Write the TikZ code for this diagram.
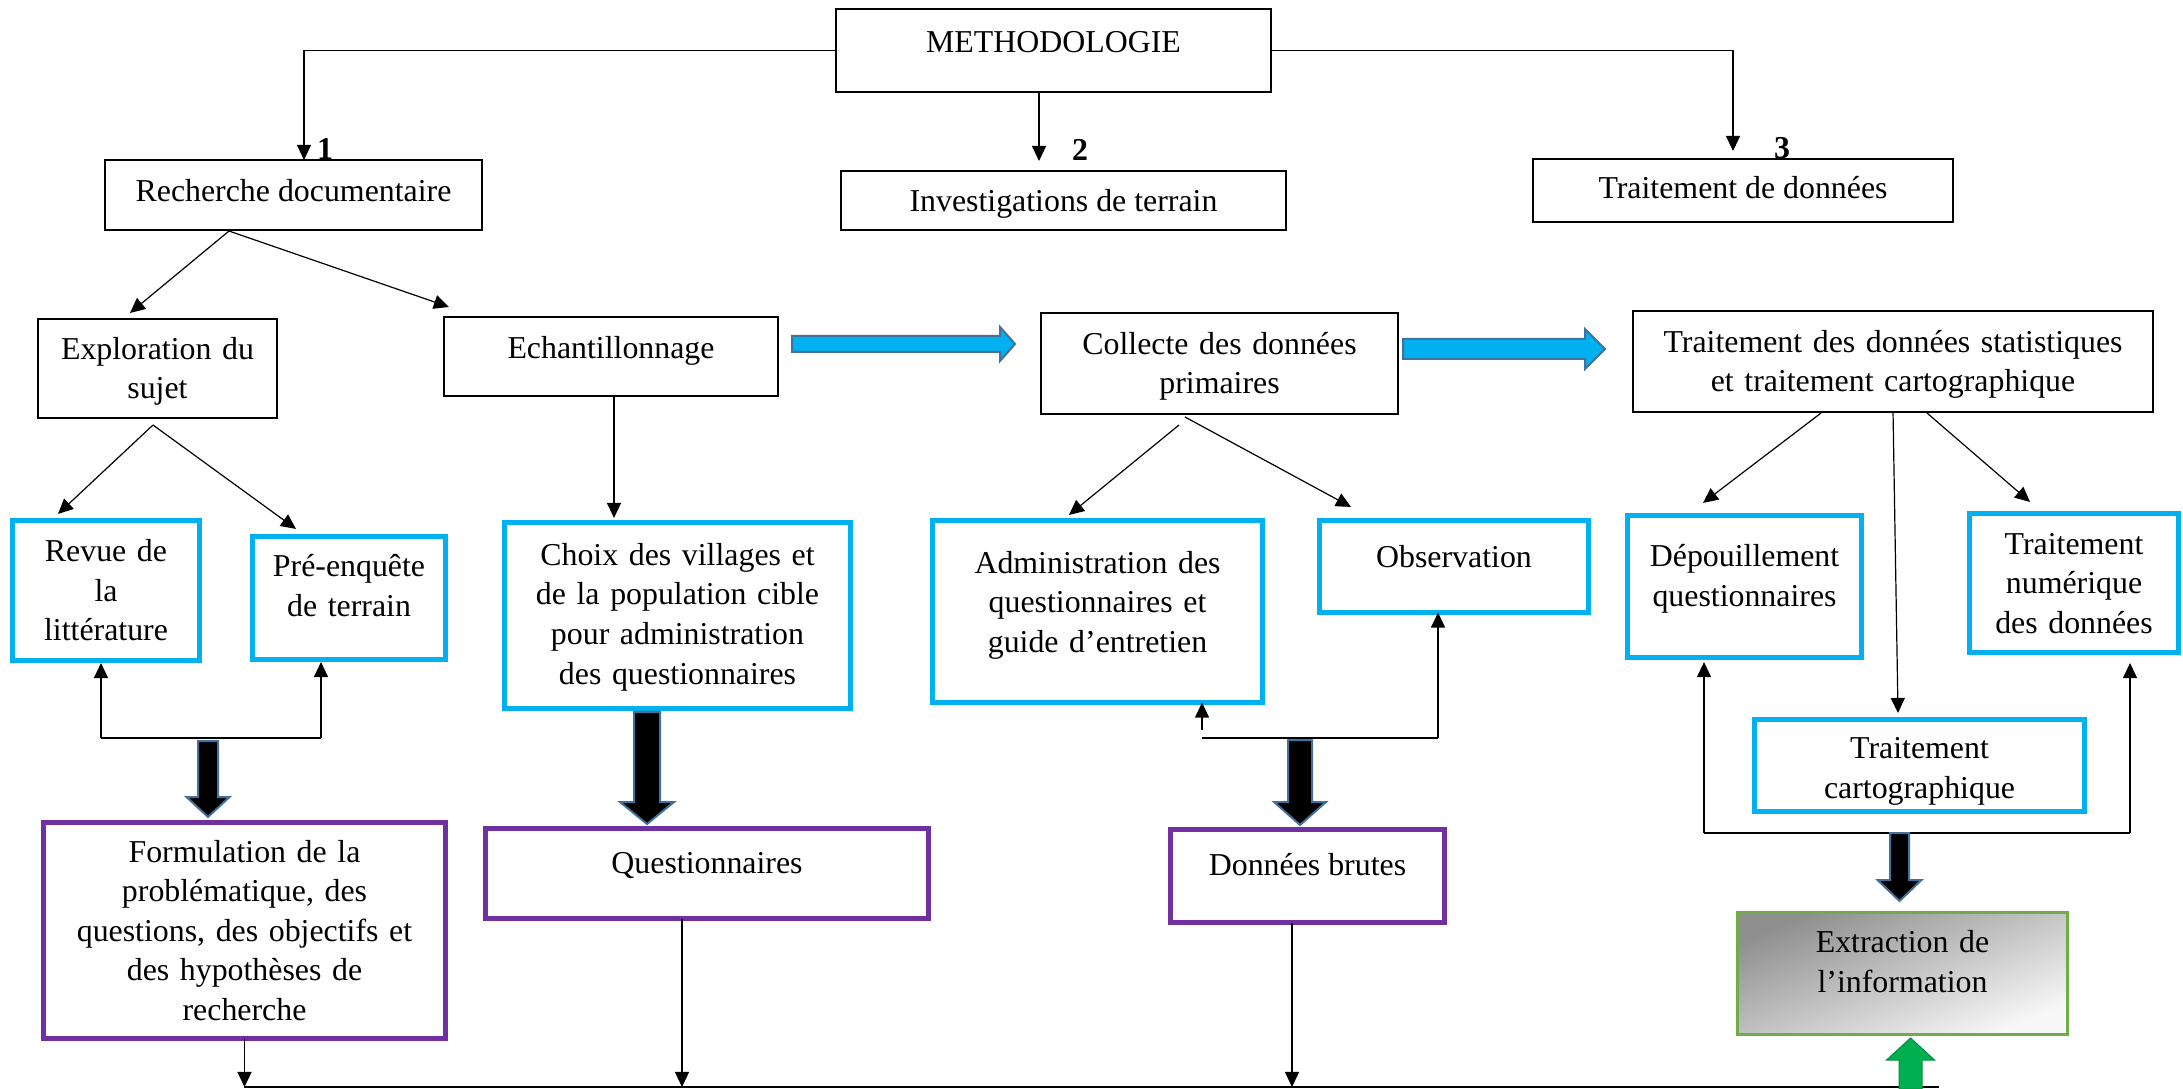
\documentclass[tikz,border=0pt]{standalone}
\usepackage{fontspec}
\setmainfont{Liberation Serif}
\usetikzlibrary{arrows.meta}

\definecolor{cyanc}{RGB}{0,176,240}
\definecolor{purplec}{RGB}{112,48,160}
\definecolor{greenbord}{RGB}{112,173,71}
\definecolor{greenarr}{RGB}{0,176,80}
\definecolor{steelc}{RGB}{65,113,156}

\begin{document}
\begin{tikzpicture}[x=0.01cm, y=-0.01cm,
	every node/.style={font=\fontsize{9.06}{11.24}\selectfont, inner sep=0pt, outer sep=0pt, align=center},
	blk/.style={draw, line width=0.02cm},
	cya/.style={draw=cyanc, line width=0.05cm},
	pur/.style={draw=purplec, line width=0.05cm},
	grn/.style={draw=greenbord, line width=0.03cm, top color=black!44, bottom color=black!3, shading angle=22},
	tx/.style={text height=8.5pt, text depth=#1},
	num/.style={font=\fontsize{9.06}{11.24}\selectfont\bfseries},
	arr/.style={-{Triangle[length=0.15cm, width=0.14cm]}, line width=0.012cm},
	fatblk/.style={draw=steelc, line width=0.02cm, fill=black, line join=miter},
	fatblue/.style={fatblk, fill=cyanc},
	fatgreen/.style={draw=greenarr!80!black, line width=0.01cm, fill=greenarr}]
	
	\path[use as bounding box, fill=white] (0,0) rectangle (2183,1089);
	
	% Niveau 1
	\node[blk, minimum width=4.35cm, minimum height=0.83cm, tx=7.6pt] (meth) at (1053.5, 50.5) {METHODOLOGIE};
	\node[blk, minimum width=3.77cm, minimum height=0.70cm, tx=4.68pt] (rech) at (293.5, 195) {Recherche documentaire};
	\node[blk, minimum width=4.45cm, minimum height=0.59cm, tx=2.4pt] (inv) at (1063.5, 200.5) {Investigations de terrain};
	\node[blk, minimum width=4.20cm, minimum height=0.63cm, tx=3.82pt] (trd) at (1743, 190.5) {Traitement de données};
	\node[num] (n1) at (325, 149) {1};
	\node[num] (n2) at (1080, 150) {2};
	\node[num] (n3) at (1782, 148) {3};
	
	% Niveau 2
	\node[blk, minimum width=2.39cm, minimum height=0.99cm, text width=2.39cm, tx=13.64pt] (expl) at (157.5, 368.5) {Exploration du\\sujet};
	\node[blk, minimum width=3.34cm, minimum height=0.79cm, tx=7.24pt] (echa) at (611, 356.5) {Echantillonnage};
	\node[blk, minimum width=3.57cm, minimum height=1.01cm, text width=3.57cm, tx=13.64pt] (coll) at (1219.5, 363.5) {Collecte des données\\primaires};
	\node[blk, minimum width=5.20cm, minimum height=1.01cm, text width=5.20cm, tx=13.64pt] (tstat) at (1893, 361.5) {Traitement des données statistiques\\et traitement cartographique};
	
	% Niveau 3
	\node[cya, minimum width=1.87cm, minimum height=1.40cm, text width=1.87cm, tx=24.88pt] (revue) at (106, 590.5) {Revue de\\la\\littérature};
	\node[cya, minimum width=1.93cm, minimum height=1.23cm, text width=1.93cm, tx=20.46pt] (pre) at (349, 598) {Pré-enquête\\de terrain};
	\node[cya, minimum width=3.46cm, minimum height=1.86cm, text width=3.46cm, tx=36.98pt] (choix) at (677.5, 615.5) {Choix des villages et\\de la population cible\\pour administration\\des questionnaires};
	\node[cya, minimum width=3.30cm, minimum height=1.82cm, text width=3.30cm, tx=30.28pt] (admin) at (1097.5, 611.5) {Administration des\\questionnaires et\\guide d’entretien};
	\node[cya, minimum width=2.69cm, minimum height=0.92cm, tx=7.8pt] (obs) at (1454, 566.5) {Observation};
	\node[cya, minimum width=2.34cm, minimum height=1.42cm, text width=2.34cm, tx=19.62pt] (depo) at (1744.5, 586.5) {Dépouillement\\questionnaires};
	\node[cya, minimum width=2.09cm, minimum height=1.39cm, text width=2.09cm, tx=24.88pt] (tnum) at (2074, 583) {Traitement\\numérique\\des données};
	\node[cya, minimum width=3.30cm, minimum height=0.92cm, text width=3.30cm, tx=12.22pt] (tcart) at (1919.5, 765.5) {Traitement\\cartographique};
	
	% Niveau 4
	\node[pur, minimum width=4.02cm, minimum height=2.16cm, text width=4.02cm, tx=47.36pt] (form) at (244.5, 930.5) {Formulation de la\\problématique, des\\questions, des objectifs et\\des hypothèses de\\recherche};
	\node[pur, minimum width=4.43cm, minimum height=0.90cm, tx=8.38pt] (quest) at (707, 873.5) {Questionnaires};
	\node[pur, minimum width=2.74cm, minimum height=0.93cm, tx=8.66pt] (brut) at (1307.5, 876) {Données brutes};
	\node[grn, minimum width=3.30cm, minimum height=1.22cm, text width=3.30cm, tx=20.18pt] (extr) at (1902.5, 973.5) {Extraction de\\l’information};
	
	% Liaisons du haut
	\draw[arr] (meth.west) -| (304,0 |- rech.north);
	\draw[arr, shorten >=0.1cm] (meth.south -| 1039,0) -- (1039,0 |- inv.north);
	\draw[arr, shorten >=0.08cm] (meth.east) -| (1733,0 |- trd.north);
	
	\draw[arr] ([shift={(-64.5,1)}]rech.south) -- ([shift={(-27.5,-6)}]expl.north);
	\draw[arr] ([shift={(-64.5,1)}]rech.south) -- ([shift={(5,-10)}]echa.north west);
	
	\draw[fatblue] (792,336) -- ++(208,0) -- ++(0,-9) -- ++(15,17) -- ++(-15,17) -- ++(0,-9) -- ++(-208,0) -- cycle;
	\draw[fatblue] (1403,339) -- ++(182,0) -- ++(0,-10) -- ++(20,20) -- ++(-20,20) -- ++(0,-10) -- ++(-182,0) -- cycle;
	
	% Recherche documentaire
	\draw[arr] ([shift={(-4.5,7)}]expl.south) -- ([shift={(-48,-6.5)}]revue.north);
	\draw[arr] ([shift={(-4.5,7)}]expl.south) -- ([shift={(-53,-7.5)}]pre.north);
	\coordinate (fbRevue) at (101, 738);
	\coordinate (fbPre) at (321, 738);
	\draw[line width=0.012cm] (fbRevue) -- (fbPre);
	\draw[arr, shorten >=0.025cm] (fbRevue) -- (fbRevue |- revue.south);
	\draw[arr, shorten >=0.025cm] (fbPre) -- (fbPre |- pre.south);
	\draw[fatblk] (198,741) -- ++(20,0) -- ++(0,56) -- ++(11.5,0) -- ++(-21.5,20) -- ++(-21.5,-20) -- ++(11.5,0) -- cycle;
	
	\draw[arr, shorten >=0.045cm] (echa.south -| 614,0) -- (614,0 |- choix.north);
	\draw[fatblk] (634,712) -- ++(26,0) -- ++(0,90) -- ++(14,0) -- ++(-27,22) -- ++(-27,-22) -- ++(14,0) -- cycle;
	
	% Investigations de terrain
	\draw[arr] ([shift={(-40.5,11)}]coll.south) -- ([shift={(-28.5,-5.5)}]admin.north);
	\draw[arr] ([shift={(-34.5,3)}]coll.south) -- ([shift={(-103,-13.5)}]obs.north);
	\coordinate (fbAdmin) at (1202, 738);
	\coordinate (fbObs) at (1438, 738);
	\draw[line width=0.012cm] (fbAdmin) -- (fbObs);
	\draw[arr] ([shift={(0,-8)}]fbAdmin) -- (fbAdmin |- admin.south);
	\draw[arr] (fbObs) -- (fbObs |- obs.south);
	\draw[fatblk] (1288,740) -- ++(24,0) -- ++(0,62) -- ++(14,0) -- ++(-26,23) -- ++(-26,-23) -- ++(14,0) -- cycle;
	
	% Traitement de donnees
	\draw[arr] ([shift={(-72,1)}]tstat.south) -- ([shift={(-41.5,-12.5)}]depo.north);
	\draw[arr] (tstat.south) -- ([shift={(-21.5,-6.5)}]tcart.north);
	\draw[arr] ([shift={(34,1)}]tstat.south) -- ([shift={(-44,-11.5)}]tnum.north);
	\coordinate (fbDepo) at (1704, 833);
	\coordinate (fbNum) at (2130, 833);
	\draw[line width=0.012cm] (fbDepo) -- (fbNum);
	\draw[arr, shorten >=0.045cm] (fbDepo) -- (fbDepo |- depo.south);
	\draw[arr, shorten >=0.105cm] (fbNum) -- (fbNum |- tnum.south);
	\draw[fatblk] (1890,833) -- ++(19,0) -- ++(0,47) -- ++(12.5,0) -- ++(-22,21) -- ++(-22,-21) -- ++(12.5,0) -- cycle;
	
	% Ligne du bas
	\coordinate (bas) at (244, 1087);
	\coordinate (basFin) at (1939, 1087);
	\draw[line width=0.012cm] (bas) -- (basFin);
	\draw[arr] (form.south) -- (form.south |- bas);
	\draw[arr] (682,0 |- quest.south) -- (682,0 |- bas);
	\draw[arr] (1292,0 |- brut.south) -- (1292,0 |- bas);
	\draw[fatgreen] (1899,1089) -- ++(0,-29) -- ++(-12.5,0) -- ++(24,-22) -- ++(24,22) -- ++(-12.5,0) -- ++(0,29) -- cycle;
	
\end{tikzpicture}
\end{document}
